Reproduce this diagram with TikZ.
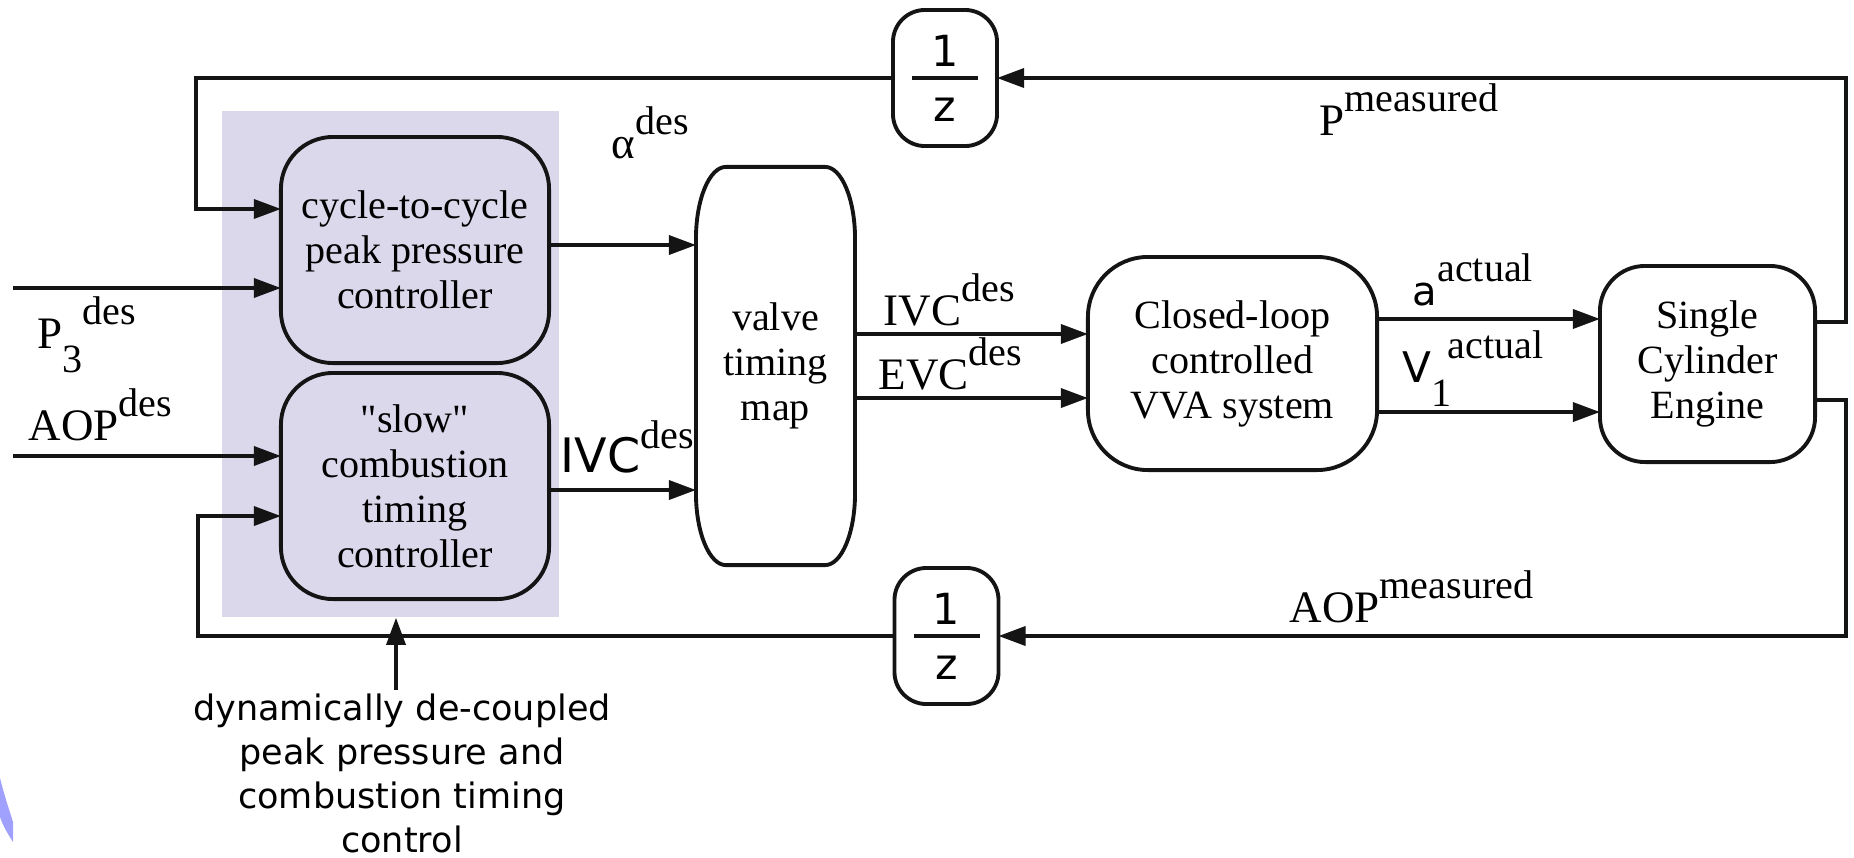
\documentclass[tikz,border=0pt]{standalone}
\usepackage{fontspec}
\setmainfont{Liberation Serif}
\setsansfont{DejaVu Sans}
\newfontfamily\plainserif{Liberation Serif}
\usetikzlibrary{arrows.meta,positioning,calc}
\definecolor{figdark}{gray}{0.08}
\definecolor{figshade}{RGB}{220,216,235}
\definecolor{figblue}{RGB}{160,160,255}
\newcommand{\boxfont}{\fontsize{11.4}{12.8}\selectfont}
\newcommand{\sigfont}{\fontsize{12.8}{14}\selectfont}
\newcommand{\hitext}[1]{\raisebox{0.23cm}{\fontsize{11.4}{12}\selectfont #1}}
\newcommand{\lotext}[1]{\raisebox{-0.24cm}{\fontsize{11.4}{12}\selectfont #1}}
\newcommand{\qmark}{{\plainserif"}}
\tikzset{
  block/.style={
    rectangle, rounded corners=5.2mm, draw=figdark, line width=1.1pt,
    align=center, font=\boxfont, inner sep=0pt, outer sep=0pt
  },
  mapblock/.style={
    rectangle, draw=none, align=center, font=\boxfont,
    minimum width=1.59cm, minimum height=3.98cm, inner sep=0pt, outer sep=0pt
  },
  delay/.style={
    rectangle, rounded corners=3.2mm, draw=figdark, line width=1.1pt,
    minimum width=1.04cm, minimum height=1.36cm, inner sep=0pt, outer sep=0pt,
    align=center, font=\sffamily\fontsize{12.2}{15.6}\selectfont
  },
  group/.style={
    rectangle, fill=figshade, draw=none,
    minimum width=3.37cm, minimum height=5.06cm, inner sep=0pt
  },
  sig/.style={font=\sigfont, inner sep=0pt, anchor=base west},
  note/.style={font=\sffamily\fontsize{9.96}{12.5}\selectfont, align=center, inner sep=0pt},
  outline/.style={line width=1.1pt, draw=figdark},
  arrow/.style={-{Triangle[length=2.7mm,width=1.9mm]}, line width=1pt, draw=figdark}
}

\begin{document}
\begin{tikzpicture}[x=0.01cm, y=-0.01cm]
  \useasboundingbox (0,0) rectangle (1854,857);

  % Shaded controller group
  \node[group] (grp) at (390.5,364) {};

  % Controllers
  \node[block, minimum width=2.68cm, minimum height=2.26cm] (cyc) at (415,250)
    {cycle-to-cycle\\peak pressure\\controller};
  \node[block, minimum width=2.68cm, minimum height=2.26cm] (slow) at (415,486)
    {\qmark slow\qmark\\combustion\\timing\\controller};

  % Valve timing map (tall corners drawn by hand)
  \node[mapblock] (map) at (775.5,366) {valve\\timing\\map};
  \draw[outline]
    ([yshift=-0.72cm]map.north west) arc[start angle=180, end angle=90, x radius=0.3cm, y radius=0.72cm]
    -- ([xshift=-0.3cm]map.north east) arc[start angle=90, end angle=0, x radius=0.3cm, y radius=0.72cm]
    -- ([yshift=0.72cm]map.south east) arc[start angle=0, end angle=-90, x radius=0.3cm, y radius=0.72cm]
    -- ([xshift=0.3cm]map.south west) arc[start angle=270, end angle=180, x radius=0.3cm, y radius=0.72cm]
    -- cycle;

  % Actuator and plant
  \node[block, rounded corners=6mm, minimum width=2.89cm, minimum height=2.13cm] (vva) at (1232.5,363.5)
    {Closed-loop\\controlled\\VVA system};
  \node[block, rounded corners=4.5mm, minimum width=2.15cm, minimum height=1.96cm] (eng) at (1707.5,364)
    {Single\\Cylinder\\Engine};

  % Unit delays
  \node[delay] (dtop) at (945,78) {1\\z};
  \node[delay] (dbot) at (946.5,636) {1\\z};
  \foreach \d in {dtop,dbot}
    \draw[line width=1.3pt, draw=figdark] ($(\d.center)+(-33,0)$) -- ($(\d.center)+(33,0)$);

  % Forward path
  \draw[arrow] ([yshift=0.05cm]cyc.east) -- ([yshift=0.05cm]cyc.east -| map.west);
  \draw[arrow] ([yshift=-0.04cm]slow.east) -- ([yshift=-0.04cm]slow.east -| map.west);
  \draw[arrow] ([yshift=0.32cm]map.east) -- ([yshift=0.32cm]map.east -| vva.west);
  \draw[arrow] ([yshift=-0.32cm]map.east) -- ([yshift=-0.32cm]map.east -| vva.west);
  \draw[arrow] ([yshift=0.445cm]vva.east) -- ([yshift=0.445cm]vva.east -| eng.west);
  \draw[arrow] ([yshift=-0.485cm]vva.east) -- ([yshift=-0.485cm]vva.east -| eng.west);

  % Reference inputs
  \coordinate (pin) at (13,288);
  \coordinate (ain) at (13,456);
  \draw[arrow] (pin) -- (pin -| cyc.west);
  \draw[arrow] (ain) -- (ain -| slow.west);

  % Feedback loops
  \draw[arrow] ([yshift=0.42cm]eng.east) -- ++(31,0) |- (dtop.east);
  \draw[arrow] (dtop.west) -| ([xshift=-0.85cm,yshift=0.41cm]cyc.west) -- ([yshift=0.41cm]cyc.west);
  \draw[arrow] ([yshift=-0.36cm]eng.east) -- ++(31,0) |- (dbot.east);
  \draw[arrow] (dbot.west) -| ([xshift=-0.83cm,yshift=-0.30cm]slow.west) -- ([yshift=-0.30cm]slow.west);

  % Signal labels
  \node[sig] (lalpha) at (611,158) {α\hitext{des}};
  \node[sig] (lp3) at (37,348) {P\lotext{3}\hitext{des}};
  \node[sig] (laop) at (28,440) {AOP\hitext{des}};
  \node[sig] (livc) at (560,472) {{\sffamily\fontsize{13.5}{15}\selectfont IVC}\hitext{des}};
  \node[sig] (livcmap) at (883,325) {IVC\hitext{des}};
  \node[sig] (levc) at (878,389) {EVC\hitext{des}};
  \node[sig] (lpm) at (1319,135) {P\hitext{measured}};
  \node[sig] (laopm) at (1289,622) {AOP\hitext{measured}};
  \node[sig] (la) at (1412,305) {{\sffamily\fontsize{11.4}{12}\selectfont a}\hitext{actual}};
  \node[sig] (lv) at (1402,382) {{\sffamily\fontsize{12}{13}\selectfont V}\lotext{1}\hspace{-0.04cm}\hitext{actual}};

  % Annotation below the group
  \node[note, anchor=north] (note) at (402,693)
    {dynamically de-coupled\\peak pressure and\\combustion timing\\control};
  \draw[arrow] ([xshift=-0.06cm,yshift=0.03cm]note.north) -- ([xshift=-0.06cm]note.north |- grp.south);

  % Edge of a neighbouring figure
  \fill[figblue] (0,778) .. controls (5,798) and (10,812) .. (13,822) -- (13,842)
    .. controls (8,834) and (3,826) .. (0,817) -- cycle;
\end{tikzpicture}
\end{document}
